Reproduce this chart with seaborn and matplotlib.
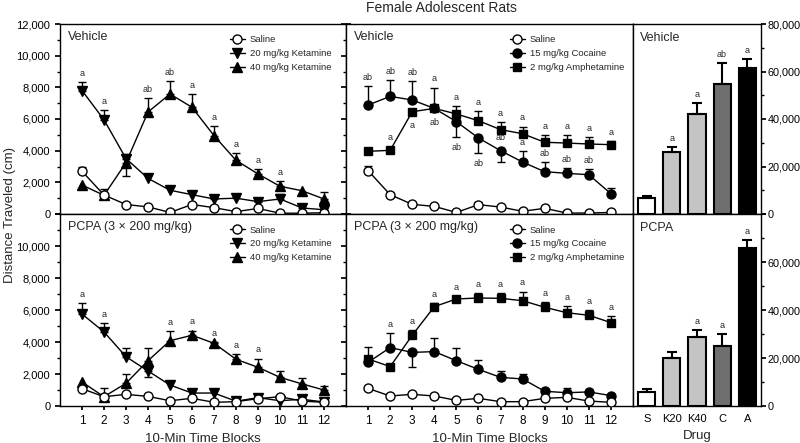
import matplotlib.pyplot as plt
import numpy as np
import pandas as pd
import seaborn as sns
from matplotlib.ticker import FuncFormatter, MultipleLocator


OUTPUT_PATH = "out.png"

BLOCKS = list(range(1, 13))
DRUGS = ["S", "K20", "K40", "C", "A"]

# Vehicle, ketamine (top left)
VK_SAL = [2700, 1200, 600, 450, 100, 600, 400, 150, 350, 50, 50, 80]
VK_SAL_ERR = [250, 400, 0, 0, 0, 100, 0, 0, 0, 0, 0, 0]
VK_K20 = [7800, 5950, 3500, 2250, 1500, 1220, 950, 1000, 780, 950, 380, 270]
VK_K20_ERR = [530, 620, 300, 0, 0, 0, 150, 150, 100, 310, 100, 100]
VK_K40 = [1830, 1180, 3240, 6440, 7580, 6740, 4950, 3390, 2530, 1750, 1470, 950]
VK_K40_ERR = [0, 0, 820, 860, 840, 820, 590, 480, 290, 330, 0, 420]
VK_K40_DOWN = [3]

# Vehicle, cocaine / amphetamine (top middle)
VC_SAL = [2740, 1220, 610, 480, 100, 590, 440, 170, 360, 60, 60, 100]
VC_SAL_ERR = [300, 0, 0, 0, 0, 150, 0, 0, 150, 0, 0, 0]
VC_COC = [6880, 7430, 7200, 6670, 5830, 4800, 4000, 3280, 2670, 2570, 2480, 1280]
VC_COC_ERR = [1180, 1030, 1200, 1310, 970, 950, 740, 680, 590, 310, 380, 360]
VC_COC_DOWN = [5, 6, 7]
VC_AMPH = [3960, 4020, 6460, 6670, 6320, 5890, 5330, 5070, 4530, 4480, 4420, 4380]
VC_AMPH_ERR = [0, 0, 0, 0, 500, 620, 460, 450, 480, 490, 440, 250]

# PCPA, ketamine (bottom left)
PK_SAL = [1080, 580, 730, 600, 330, 480, 230, 270, 460, 580, 310, 230]
PK_SAL_ERR = [0, 0, 0, 0, 0, 0, 0, 0, 0, 100, 0, 0]
PK_K20 = [5750, 4630, 3080, 2190, 1310, 810, 810, 300, 520, 330, 420, 250]
PK_K20_ERR = [670, 540, 570, 400, 0, 0, 0, 0, 0, 0, 0, 0]
PK_K20_DOWN = [4]
PK_K40 = [1500, 580, 1420, 2830, 4080, 4420, 3920, 2920, 2420, 1790, 1380, 1000]
PK_K40_ERR = [0, 520, 580, 800, 610, 290, 100, 310, 540, 400, 350, 270]

# PCPA, cocaine / amphetamine (bottom middle)
PC_SAL = [1100, 625, 730, 625, 350, 480, 270, 270, 480, 540, 310, 230]
PC_SAL_ERR = [0, 0, 0, 0, 0, 0, 0, 0, 0, 0, 0, 0]
PC_COC = [2730, 3650, 3350, 3400, 2830, 2290, 1790, 1690, 920, 830, 880, 650]
PC_COC_ERR = [0, 930, 930, 870, 770, 580, 420, 310, 0, 270, 0, 0]
PC_COC_DOWN = [3]
PC_AMPH = [2940, 2460, 4420, 6210, 6690, 6750, 6730, 6580, 6170, 5830, 5670, 5210]
PC_AMPH_ERR = [730, 0, 330, 200, 190, 290, 310, 570, 350, 420, 300, 420]

# Totals (right column)
VEH_TOTAL = [6700, 26100, 42200, 54900, 61600]
VEH_TOTAL_ERR = [1000, 2250, 4400, 8800, 3700]
VEH_TOTAL_SIG = ["", "a", "a", "ab", "a"]
PCPA_TOTAL = [5900, 20200, 28900, 24800, 65900]
PCPA_TOTAL_ERR = [1100, 2500, 2600, 5300, 3200]
PCPA_TOTAL_SIG = ["", "", "a", "a", "a"]

# significance letters: (series, block, text, side)
VK_SIG = [("k20", 1, "a", "above"), ("k20", 2, "a", "above"),
          ("k40", 4, "ab", "above"), ("k40", 5, "ab", "above"),
          ("k40", 6, "a", "above"), ("k40", 7, "a", "above"),
          ("k40", 8, "a", "above"), ("k40", 9, "a", "above"),
          ("k40", 10, "a", "above")]
VC_SIG = [("coc", 1, "ab", "above"), ("coc", 2, "ab", "above"),
          ("coc", 3, "ab", "above"), ("amph", 3, "a", "below"),
          ("coc", 4, "a", "above"), ("coc", 4, "ab", "below"),
          ("amph", 2, "a", "above"),
          ("amph", 5, "a", "above"), ("coc", 5, "ab", "below"),
          ("amph", 6, "a", "above"), ("coc", 6, "ab", "below"),
          ("amph", 7, "a", "above"), ("coc", 7, "ab", "above"),
          ("amph", 8, "a", "above"), ("coc", 8, "a", "above"),
          ("amph", 9, "a", "above"), ("coc", 9, "ab", "above"),
          ("amph", 10, "a", "above"), ("coc", 10, "ab", "above"),
          ("amph", 11, "a", "above"), ("coc", 11, "ab", "above"),
          ("amph", 12, "a", "above")]
PK_SIG = [("k20", 1, "a", "above"), ("k20", 2, "a", "above"),
          ("k40", 5, "a", "above"), ("k40", 6, "a", "above"),
          ("k40", 7, "a", "above"), ("k40", 8, "a", "above"),
          ("k40", 9, "a", "above")]
PC_SIG = [("coc", 2, "a", "above"), ("amph", 3, "a", "above"),
          ("amph", 4, "a", "above"), ("amph", 5, "a", "above"),
          ("amph", 6, "a", "above"), ("amph", 7, "a", "above"),
          ("amph", 8, "a", "above"), ("amph", 9, "a", "above"),
          ("amph", 10, "a", "above"), ("amph", 11, "a", "above"),
          ("amph", 12, "a", "above")]

STYLE = {
    "sal": dict(label="Saline", marker="o", markersize=6.5, markerfacecolor="white", zorder=5),
    "k20": dict(label="20 mg/kg Ketamine", marker="v", markersize=7, markerfacecolor="black", zorder=4),
    "k40": dict(label="40 mg/kg Ketamine", marker="^", markersize=7, markerfacecolor="black", zorder=4),
    "coc": dict(label="15 mg/kg Cocaine", marker="o", markersize=6.5, markerfacecolor="black", zorder=4),
    "amph": dict(label="2 mg/kg Amphetamine", marker="s", markersize=6, markerfacecolor="black", zorder=4),
}
BAR_COLORS = ["white", "#c4c4c4", "#c4c4c4", "#6f6f6f", "black"]

comma = FuncFormatter(lambda v, p: f"{int(v):,}")


def split_err(err, down):
    up = np.array([0 if b in down else e for b, e in zip(BLOCKS, err)], float)
    lo = np.array([e if b in down else 0 for b, e in zip(BLOCKS, err)], float)
    return up, lo


def sig_text(ax, x, y, text, offset, va):
    ax.annotate(text, (x, y), xytext=(0, offset), textcoords="offset points",
                ha="center", va=va, fontsize=6.5)


def draw_time_panel(ax, series, sigs, label, bottom, legend_x):
    info = {}
    for key, mean, err, down in series:
        up, lo = split_err(err, down)
        info[key] = (np.array(mean, float), up, lo)
        mask = np.array(err) > 0
        x = np.array(BLOCKS)[mask]
        ax.errorbar(x, np.array(mean)[mask], yerr=[lo[mask], up[mask]], fmt="none",
                    ecolor="black", elinewidth=1, capsize=3, capthick=1, zorder=2)
    for key, mean, err, down in series:
        df = pd.DataFrame({"block": BLOCKS, "dist": mean})
        sns.lineplot(data=df, x="block", y="dist", color="black", linewidth=1,
                     markeredgecolor="black", markeredgewidth=1, errorbar=None,
                     ax=ax, **STYLE[key])
    for key, block, text, side in sigs:
        mean, up, lo = info[key]
        i = block - 1
        if side == "above":
            sig_text(ax, block, mean[i] + up[i], text, 3 if up[i] > 0 else 6, "bottom")
        else:
            sig_text(ax, block, mean[i] - lo[i], text, -4 if lo[i] > 0 else -7, "top")

    ax.legend(loc="upper left", bbox_to_anchor=(legend_x, 0.94), frameon=False,
              fontsize=6.8, handlelength=1.6, handletextpad=0.5, labelspacing=0.5,
              borderaxespad=0, borderpad=0)
    ax.text(0.028, 0.93, label, transform=ax.transAxes, fontsize=9, va="center")
    ax.set_xlim(0, 13)
    ax.set_ylim(0, 12000)
    ax.set_xlabel("")
    ax.set_ylabel("")
    ax.set_xticks(BLOCKS)
    ax.yaxis.set_major_locator(MultipleLocator(2000))
    ax.yaxis.set_minor_locator(MultipleLocator(1000))
    ax.tick_params(axis="y", which="major", length=3.5)
    ax.tick_params(axis="y", which="minor", length=2)
    if bottom:
        ax.tick_params(axis="x", direction="out", length=3, labelsize=8.5)
        ax.set_xlabel("10-Min Time Blocks", fontsize=9.5)
    else:
        ax.tick_params(axis="x", length=0, labelbottom=False)


def draw_total_panel(ax, values, errs, sigs, label, bottom):
    df = pd.DataFrame({"drug": DRUGS, "dist": values})
    sns.barplot(data=df, x="drug", y="dist", hue="drug", palette=BAR_COLORS,
                edgecolor="black", linewidth=1.5, width=0.68, legend=False,
                errorbar=None, ax=ax)
    ax.errorbar(range(len(DRUGS)), values, yerr=[np.zeros(len(errs)), errs], fmt="none",
                ecolor="black", elinewidth=1.5, capsize=3.5, capthick=1.5, zorder=3)
    for i, (v, e, s) in enumerate(zip(values, errs, sigs)):
        if s:
            sig_text(ax, i, v + e, s, 3, "bottom")
    ax.text(0.054, 0.926, label, transform=ax.transAxes, fontsize=9, va="center")
    ax.set_xlim(-0.55, 4.55)
    ax.set_ylim(0, 80000)
    ax.yaxis.tick_right()
    ax.yaxis.set_major_locator(MultipleLocator(20000))
    ax.yaxis.set_minor_locator(MultipleLocator(10000))
    ax.tick_params(axis="y", which="both", left=False, right=True, labelright=True,
                   labelleft=False, direction="out", labelsize=7.8, pad=1)
    ax.tick_params(axis="y", which="major", length=3.5)
    ax.tick_params(axis="y", which="minor", length=2)
    ax.set_ylabel("")
    if bottom:
        ax.yaxis.set_major_formatter(FuncFormatter(lambda v, p: "" if v >= 80000 else f"{int(v):,}"))
        ax.tick_params(axis="x", length=0, labelsize=8, pad=6)
        ax.set_xlabel("Drug", fontsize=9.5)
    else:
        ax.yaxis.set_major_formatter(comma)
        ax.tick_params(axis="x", length=0, labelbottom=False)
        ax.set_xlabel("")


def main() -> None:
    sns.set_theme(style="ticks")
    plt.rcParams["font.family"] = ["Liberation Sans", "DejaVu Sans"]
    plt.rcParams["axes.linewidth"] = 1.0
    plt.rcParams["axes.edgecolor"] = "black"
    plt.rcParams["xtick.color"] = "black"
    plt.rcParams["ytick.color"] = "black"

    fig = plt.figure(figsize=(8, 4.43), dpi=100)
    xs = [60 / 800, 346 / 800, 633 / 800, 761 / 800]
    ys = [37 / 443, 229 / 443, 419 / 443]

    axes = {}
    for r, (y0, y1) in enumerate([(ys[1], ys[2]), (ys[0], ys[1])]):
        for c in range(3):
            axes[r, c] = fig.add_axes([xs[c], y0, xs[c + 1] - xs[c], y1 - y0])

    draw_time_panel(axes[0, 0],
                    [("sal", VK_SAL, VK_SAL_ERR, []),
                     ("k20", VK_K20, VK_K20_ERR, []),
                     ("k40", VK_K40, VK_K40_ERR, VK_K40_DOWN)],
                    VK_SIG, "Vehicle", False, 0.594)
    draw_time_panel(axes[0, 1],
                    [("sal", VC_SAL, VC_SAL_ERR, []),
                     ("coc", VC_COC, VC_COC_ERR, VC_COC_DOWN),
                     ("amph", VC_AMPH, VC_AMPH_ERR, [])],
                    VC_SIG, "Vehicle", False, 0.571)
    draw_time_panel(axes[1, 0],
                    [("sal", PK_SAL, PK_SAL_ERR, []),
                     ("k20", PK_K20, PK_K20_ERR, PK_K20_DOWN),
                     ("k40", PK_K40, PK_K40_ERR, [])],
                    PK_SIG, "PCPA (3 \u00d7 200 mg/kg)", True, 0.594)
    draw_time_panel(axes[1, 1],
                    [("sal", PC_SAL, PC_SAL_ERR, []),
                     ("coc", PC_COC, PC_COC_ERR, PC_COC_DOWN),
                     ("amph", PC_AMPH, PC_AMPH_ERR, [])],
                    PC_SIG, "PCPA (3 \u00d7 200 mg/kg)", True, 0.571)
    draw_total_panel(axes[0, 2], VEH_TOTAL, VEH_TOTAL_ERR, VEH_TOTAL_SIG, "Vehicle", False)
    draw_total_panel(axes[1, 2], PCPA_TOTAL, PCPA_TOTAL_ERR, PCPA_TOTAL_SIG, "PCPA", True)

    for r in range(2):
        left = axes[r, 0]
        if r == 1:
            left.yaxis.set_major_formatter(FuncFormatter(lambda v, p: "" if v >= 12000 else f"{int(v):,}"))
        else:
            left.yaxis.set_major_formatter(comma)
        left.tick_params(axis="y", which="both", left=True, right=True, labelright=False,
                         direction="out", labelsize=8)
        # ticks on the shared edge stick into the left panel too
        axes[r, 1].tick_params(axis="y", which="both", left=True, right=False,
                               labelleft=False, labelright=False, direction="out")

    fig.text(0.552, 0.982, "Female Adolescent Rats", ha="center", va="center", fontsize=10)
    fig.text(0.012, 0.515, "Distance Traveled (cm)", rotation=90, ha="center",
             va="center", fontsize=9.5)

    fig.savefig(OUTPUT_PATH, dpi=100)


if __name__ == "__main__":
    main()
